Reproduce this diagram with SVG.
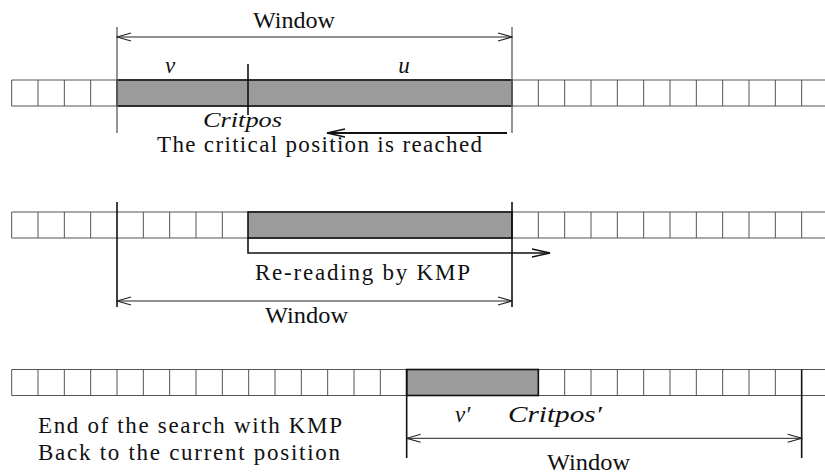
<svg xmlns="http://www.w3.org/2000/svg" width="825" height="475" viewBox="0 0 825 475">
<style>
.cell{fill:none;stroke:#555;stroke-width:1}
.seg{fill:#9b9b9b;stroke:#111;stroke-width:1.6}
.guide{stroke:#666;stroke-width:1.4;fill:none}
.mark{stroke:#111;stroke-width:1.6;fill:none}
.dim{stroke:#222;stroke-width:1;fill:none}
.bold{stroke:#111;stroke-width:2;fill:none}
.lbl{font-family:'Liberation Serif','DejaVu Serif','Times New Roman',serif;font-size:23px;fill:#111}
.it{font-style:italic}
</style>
<defs>
<marker id="open" viewBox="0 0 16 10" refX="15" refY="5" markerWidth="16" markerHeight="10" markerUnits="userSpaceOnUse" orient="auto-start-reverse">
<path d="M1,1 L15,5 L1,9" fill="none" stroke="#222" stroke-width="1.1"/>
</marker>
<marker id="openb" viewBox="0 0 20 10" refX="19" refY="5" markerWidth="20" markerHeight="10" markerUnits="userSpaceOnUse" orient="auto-start-reverse">
<path d="M1,1 L19,5 L1,9" fill="none" stroke="#111" stroke-width="1.4"/>
</marker>
</defs>

<g id="row1">
<path class="cell" d="M11.67,80 H825 M11.67,106 H825 M11.67,80 V106 M38,80 V106 M64.33,80 V106 M90.67,80 V106 M538.33,80 V106 M564.67,80 V106 M591,80 V106 M617.33,80 V106 M643.67,80 V106 M670,80 V106 M696.33,80 V106 M722.67,80 V106 M749,80 V106 M775.33,80 V106 M801.67,80 V106"/>
<rect class="seg" x="117" y="80" width="395" height="26"/>
<line class="mark" x1="248" y1="64" x2="248" y2="115"/>
<line class="guide" x1="117" y1="27" x2="117" y2="133"/>
<line class="guide" x1="512" y1="27" x2="512" y2="133"/>
</g>

<g id="row2">
<path class="cell" d="M11.67,212 H825 M11.67,238 H825 M11.67,212 V238 M38,212 V238 M64.33,212 V238 M90.67,212 V238 M143.33,212 V238 M169.67,212 V238 M196,212 V238 M222.33,212 V238 M538.33,212 V238 M564.67,212 V238 M591,212 V238 M617.33,212 V238 M643.67,212 V238 M670,212 V238 M696.33,212 V238 M722.67,212 V238 M749,212 V238 M775.33,212 V238 M801.67,212 V238"/>
<rect class="seg" x="248" y="212" width="264" height="26"/>
<line class="mark" x1="117" y1="202" x2="117" y2="307"/>
<line class="mark" x1="512" y1="202" x2="512" y2="307"/>
</g>

<g id="row3">
<path class="cell" d="M11.67,369.5 H825 M11.67,395.5 H825 M11.67,369.5 V395.5 M38,369.5 V395.5 M64.33,369.5 V395.5 M90.67,369.5 V395.5 M117,369.5 V395.5 M143.33,369.5 V395.5 M169.67,369.5 V395.5 M196,369.5 V395.5 M222.33,369.5 V395.5 M248.67,369.5 V395.5 M275,369.5 V395.5 M301.33,369.5 V395.5 M327.67,369.5 V395.5 M354,369.5 V395.5 M380.33,369.5 V395.5 M564.67,369.5 V395.5 M591,369.5 V395.5 M617.33,369.5 V395.5 M643.67,369.5 V395.5 M670,369.5 V395.5 M696.33,369.5 V395.5 M722.67,369.5 V395.5 M749,369.5 V395.5 M775.33,369.5 V395.5"/>
<rect class="seg" x="406.67" y="369.5" width="131.67" height="26"/>
<line class="mark" x1="406.67" y1="369.5" x2="406.67" y2="458"/>
<line class="mark" x1="801.67" y1="369.5" x2="801.67" y2="458"/>
</g>

<g id="connectors">
<line class="dim" x1="117" y1="37" x2="512" y2="37" marker-start="url(#open)" marker-end="url(#open)"/>
<line class="bold" x1="507" y1="133" x2="327" y2="133" marker-end="url(#openb)"/>
<polyline class="mark" points="248,238 248,253 550,253" marker-end="url(#openb)"/>
<line class="dim" x1="117" y1="301" x2="512" y2="301" marker-start="url(#open)" marker-end="url(#open)"/>
<line class="dim" x1="406.67" y1="438.3" x2="801.67" y2="438.3" marker-start="url(#open)" marker-end="url(#open)"/>
</g>

<g id="labels" font-family="'Liberation Serif', 'DejaVu Serif', 'Times New Roman', serif" font-size="23">
<text class="lbl" x="253" y="28" textLength="82" lengthAdjust="spacingAndGlyphs">Window</text>
<text class="lbl it" x="170" y="73" text-anchor="middle">v</text>
<text class="lbl it" x="404" y="73" text-anchor="middle">u</text>
<text class="lbl it" x="203" y="127" style="font-size:22px" textLength="79" lengthAdjust="spacingAndGlyphs">Critpos</text>
<text class="lbl" x="157" y="152" textLength="325" lengthAdjust="spacing">The critical position is reached</text>
<text class="lbl" x="255" y="280" textLength="215" lengthAdjust="spacing">Re-reading by KMP</text>
<text class="lbl" x="265" y="323" textLength="83" lengthAdjust="spacingAndGlyphs">Window</text>
<text class="lbl it" x="455" y="422">v′</text>
<text class="lbl it" x="508" y="422" textLength="94" lengthAdjust="spacingAndGlyphs">Critpos′</text>
<text class="lbl" x="547" y="470" textLength="83" lengthAdjust="spacingAndGlyphs">Window</text>
<text class="lbl" x="38" y="433" textLength="304" lengthAdjust="spacing">End of the search with KMP</text>
<text class="lbl" x="38" y="460" textLength="302" lengthAdjust="spacing">Back to the current position</text>
</g>
</svg>
